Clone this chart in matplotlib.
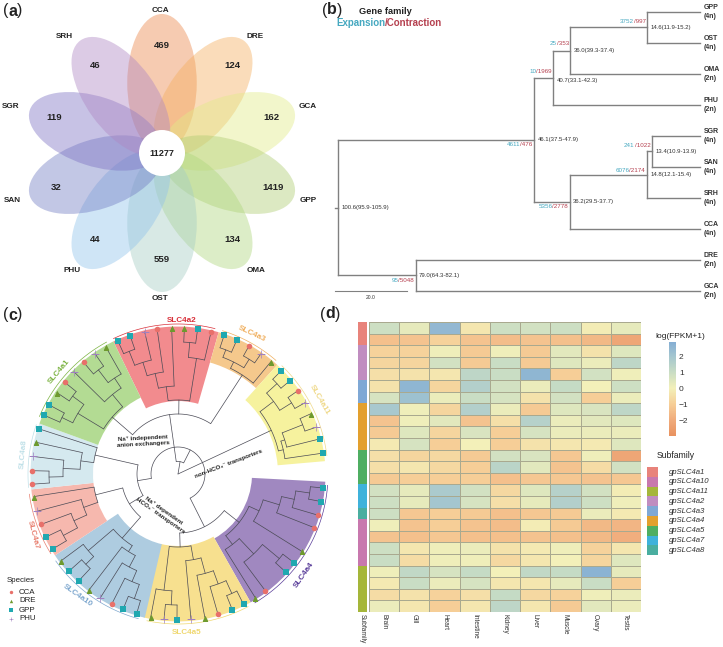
"""Four panel genome figure: flower plot, dated species tree, SLC4 tree, expression heatmap."""

import numpy as np
import matplotlib
matplotlib.use('Agg')
import matplotlib.pyplot as plt
from matplotlib.colors import LinearSegmentedColormap, ListedColormap
from matplotlib.patches import Circle, Ellipse, Rectangle

plt.rcParams['font.family'] = ['Liberation Sans', 'DejaVu Sans']

W, H = 723, 647

# panel a
flower_species = ['CCA', 'DRE', 'GCA', 'GPP', 'OMA', 'OST', 'PHU', 'SAN', 'SGR', 'SRH']
flower_counts = [469, 124, 162, 1419, 134, 559, 44, 32, 119, 46]
core_count = 11277
flower_colors = ['#EB874B', '#F5AF5F', '#E1EB87', '#AFCD73', '#AFD77D',
                 '#A5CDC3', '#91C3EB', '#737DC3', '#7D73C3', '#AF87C3']

# panel b: (age, age range, expansion, contraction, children)
species_tree = (100.6, '100.6(95.9-105.9)', None, None, [
    (46.1, '46.1(37.5-47.9)', 4611, 476, [
        (40.7, '40.7(33.1-42.3)', 10, 1969, [
            (36.0, '36.0(39.3-37.4)', 25, 353, [
                (14.6, '14.6(11.9-15.2)', 3752, 997, ['GPP', 'OST']),
                'OMA']),
            'PHU']),
        (36.2, '36.2(29.5-37.7)', 5356, 2778, [
            (14.8, '14.8(12.1-15.4)', 6076, 2174, [
                (13.4, '13.4(10.9-13.9)', 241, 1022, ['SGR', 'SAN']),
                'SRH']),
            'CCA'])]),
    (79.0, '79.0(64.3-82.1)', 95, 5048, ['DRE', 'GCA'])])
tip_order = ['GPP', 'OST', 'OMA', 'PHU', 'SGR', 'SAN', 'SRH', 'CCA', 'DRE', 'GCA']
ploidy = ['4n', '4n', '2n', '2n', '4n', '4n', '4n', '4n', '2n', '2n']

# panel c: (start angle, end angle, inner radius) of each clade
clade_names = ['SLC4a2', 'SLC4a3', 'SLC4a11', 'SLC4a4', 'SLC4a5', 'SLC4a10', 'SLC4a7', 'SLC4a8', 'SLC4a1']
clade_start = [74, 47.7, 5, -60.5, -103.5, 213.5, 186, 160, 116]
clade_end = [116, 74, 47.7, -3, -60.5, 257, 213.5, 186, 160]
clade_inner = [73, 116, 100, 74, 72, 72, 85, 85, 85]
clade_colors = ['#F28B8E', '#F5C88C', '#F6F29E', '#A088C0', '#F7E08F', '#AECCE0', '#F6B8AE', '#D5E9EF', '#B3DB93']
label_colors = ['#D9303A', '#F0B060', '#EFD98A', '#5A3E9A', '#F0D870', '#7FA8CF', '#E88070', '#BFE0E8', '#7CB342']

clade_angles = {
    'SLC4a2': [114.3, 109.1, 103.2, 98.2, 92.5, 87.5, 82.3, 76.9],
    'SLC4a3': [71.6, 66.3, 61.0, 55.4, 50.4],
    'SLC4a11': [45.0, 39.8, 34.8, 29.3, 24.4, 18.7, 13.9, 8.2],
    'SLC4a4': [-5.5, -10.9, -16.4, -21.5, -32.0, -37.4, -42.3, -53.2, -58.0],
    'SLC4a5': [-63.3, -68.2, -74.1, -79.4, -84.9, -90.4, -95.5, -100.8],
    'SLC4a10': [253.5, 247.9, 243.0, 237.9, 232.5, 227.1, 221.7, 216.6],
    'SLC4a7': [210.9, 205.5, 200.2, 194.8, 188.9],
    'SLC4a8': [184.0, 178.7, 173.1, 167.4, 162.0],
    'SLC4a1': [156.3, 151.8, 146.1, 141.0, 135.5, 130.2, 124.6, 119.6],
}
clade_species = {
    'SLC4a2': ['GPP', 'GPP', 'PHU', 'CCA', 'DRE', 'DRE', 'GPP', 'CCA'],
    'SLC4a3': ['GPP', 'GPP', 'CCA', 'PHU', 'DRE'],
    'SLC4a11': ['GPP', 'GPP', 'CCA', 'PHU', 'DRE', 'PHU', 'GPP', 'GPP'],
    'SLC4a4': ['GPP', 'GPP', 'CCA', 'CCA', 'DRE', 'GPP', 'GPP', 'CCA', 'DRE'],
    'SLC4a5': ['GPP', 'GPP', 'CCA', 'DRE', 'PHU', 'GPP', 'PHU', 'DRE'],
    'SLC4a10': ['GPP', 'GPP', 'CCA', 'PHU', 'DRE', 'GPP', 'GPP', 'DRE'],
    'SLC4a7': ['GPP', 'GPP', 'CCA', 'PHU', 'DRE'],
    'SLC4a8': ['CCA', 'CCA', 'PHU', 'DRE', 'GPP'],
    'SLC4a1': ['GPP', 'GPP', 'DRE', 'CCA', 'PHU', 'CCA', 'PHU', 'DRE'],
}
# (node radius, children), an int is a tip of the clade
clade_trees = {
    'SLC4a2': (74, [(88, [(103, [(117, [(132, [0, 1]), 2]), 3]), 4]), (117, [(132, [5, 6]), 7])]),
    'SLC4a3': (118, [(125, [(133, [0, 1]), (135, [2, 3])]), 4]),
    'SLC4a11': (103, [(120, [(134, [0, 1]), (134, [2, 3])]), (108, [7, (112, [6, (134, [4, 5])])])]),
    'SLC4a4': (78, [(89, [(106, [(119, [(133, [0, 1]), 2]), 3]), 4]), (89, [8, (110, [7, (132, [5, 6])])])]),
    'SLC4a5': (73, [(117, [7, (131, [5, 6])]), (87, [4, (103, [3, (117, [2, (131, [0, 1])])])])]),
    'SLC4a10': (85, [(92, [4, (105, [3, (117, [2, (132, [0, 1])])])]), (118, [7, (129, [5, 6])])]),
    'SLC4a7': (85, [(100, [(114, [(130, [0, 1]), 2]), 3]), 4]),
    'SLC4a8': (85, [(98, [(115, [(129, [0, 1]), 2]), 3]), 4]),
    'SLC4a1': (87, [(117, [(129, [0, 1]), (131, [2, 3])]), (103, [4, (115, [(131, [5, 6]), 7])])]),
}
# branches between clades, strings name a clade
backbone = (0, ['SLC4a11', (12.5, [
    (60, ['SLC4a1', 'SLC4a2', 'SLC4a3']),
    (27, [(41, ['SLC4a8', (57, ['SLC4a7', 'SLC4a10'])]),
          (59, ['SLC4a5', 'SLC4a4'])])])])
species_names = ['CCA', 'DRE', 'GPP', 'PHU']
species_colors = ['#E8706A', '#6E9A2E', '#20A8B0', '#A080C0']
species_markers = ['o', '^', 's', '+']

# panel d
tissues = ['Brain', 'Gill', 'Heart', 'Intestine', 'Kidney', 'Liver', 'Muscle', 'Ovary', 'Testis']
expression = [
    [0.9, 0.3, 2.5, -0.3, 0.9, 0.8, 0.9, -0.1, 0.3],
    [-1.4, -1.3, -0.9, -1.3, -1.5, -1.3, -1.4, -1.6, -2.2],
    [-0.9, -0.9, 0.1, -1.1, 0.1, -1.1, 0.4, -0.4, 0.5],
    [-0.8, -0.8, 0.8, -1.1, 1.0, -1.1, 0.5, 0.2, 1.3],
    [-0.5, -0.4, -0.3, 1.3, 1.0, 2.6, -1.0, 0.8, 0.1],
    [-0.4, 2.6, -0.8, 1.6, 0.8, 0.2, 1.1, 0.0, 0.9],
    [0.7, 2.2, 0.2, 1.0, 0.7, -0.4, 0.8, -1.0, 0.2],
    [1.9, 0.1, -0.8, 1.6, 0.2, -1.1, 0.5, 0.6, 1.3],
    [-1.3, 0.1, 0.4, -1.3, -0.5, 1.5, 0.2, 0.4, 0.5],
    [-1.1, 0.5, -0.8, 0.6, -1.0, 0.7, 0.2, 0.2, 0.2],
    [-0.2, 0.7, -1.0, 0.0, -1.0, -0.4, -0.3, -0.2, 0.5],
    [-0.5, -0.8, -0.7, -1.1, 0.8, 0.6, -1.2, 0.1, -2.2],
    [-0.5, -0.3, -0.7, -1.0, 1.4, 0.4, -1.3, -0.6, 0.8],
    [-1.1, -1.0, -1.0, -1.0, -1.4, -1.2, -1.2, -1.3, -1.2],
    [0.8, 0.3, 1.8, 0.8, -0.7, 0.5, 1.5, 0.8, -0.1],
    [0.9, 0.3, 2.0, 0.7, -0.5, 0.3, 1.6, 0.9, 0.1],
    [0.9, -1.2, -1.0, -1.1, -1.4, -1.2, -1.1, 0.2, -0.2],
    [0.1, -1.3, -1.0, -1.3, -1.5, -0.1, -1.1, -1.6, -1.7],
    [-1.3, -1.4, -1.2, -1.4, -1.4, -1.3, -1.4, -1.6, -1.9],
    [0.9, -0.3, 0.1, 0.2, -0.4, -0.2, 0.1, -0.9, -0.3],
    [1.0, -0.6, 0.1, 0.1, -0.7, -0.3, 0.0, -0.8, 0.5],
    [0.1, 1.2, 0.7, 1.1, 0.0, 1.2, 1.1, 2.7, 0.3],
    [-0.2, 1.0, 0.2, 0.7, -0.3, -0.3, 0.3, 1.0, -1.0],
    [-0.6, -0.4, -0.9, -0.5, 1.1, -0.7, -0.9, 0.1, 0.2],
    [0.2, -0.3, -1.0, -0.3, 1.3, -0.3, -1.1, 0.4, 0.2],
]
subfamilies = ['gpSLC4a1', 'gpSLC4a10', 'gpSLC4a11', 'gpSLC4a2', 'gpSLC4a3',
               'gpSLC4a4', 'gpSLC4a5', 'gpSLC4a7', 'gpSLC4a8']
subfamily_colors = ['#E8837B', '#C878AE', '#A5B63A', '#C08DC0', '#7FA8D5',
                    '#E3A02E', '#4FAE62', '#3FB2DB', '#4AAEA0']
row_subfamily = [0, 0, 3, 3, 3, 4, 4, 5, 5, 5, 5, 6, 6, 6, 7, 7, 8, 1, 1, 1, 1, 2, 2, 2, 2]
colorbar_ticks = [-2, -1, 0, 1, 2]

heat_cmap = LinearSegmentedColormap.from_list('heat', [
    (0.0, '#E8925F'), (1 / 5.9, '#F0AB7C'), (2 / 5.9, '#F6CE97'), (3 / 5.9, '#F3F0B9'),
    (4 / 5.9, '#C9DDC4'), (5 / 5.9, '#A4C6CF'), (1.0, '#85AED4')])


def px_axes(left, top, right, bottom, **kwargs):
    return fig.add_axes([left / W, 1 - bottom / H, (right - left) / W, (bottom - top) / H], **kwargs)


def chain_text(ax, x, y, parts, **kwargs):
    """Write (text, options) pieces one after the other on the pixel axes."""
    renderer = fig.canvas.get_renderer()
    for text, opts in parts:
        t = ax.text(x, y, text, ha='left', va='center', **{**kwargs, **opts})
        x += t.get_window_extent(renderer).width


def draw_flower(ax):
    center_x, center_y = 162, 153
    for i, color in enumerate(flower_colors):
        angle = 90 - 36 * i
        px = center_x + 70 * np.cos(np.radians(angle))
        py = center_y - 70 * np.sin(np.radians(angle))
        ax.add_patch(Ellipse((px, py), 138, 69.5, angle=-angle, facecolor=color, alpha=0.43, edgecolor='none'))
    ax.add_patch(Circle((center_x, center_y), 23, facecolor='white', edgecolor='none'))
    ax.text(center_x, center_y, str(core_count), ha='center', va='center', fontsize=6.6, fontweight='bold', color='#222222')
    name_xy = [(160, 10), (255, 36), (308, 106), (308, 201), (256, 271),
               (160, 298), (72, 271), (12, 201), (11, 106), (64, 36)]
    count_xy = [(162, 46), (232, 66), (271, 118), (273, 188), (232, 240),
                (162, 260), (95, 240), (56, 188), (54, 118), (95, 66)]
    for name, count, nxy, cxy in zip(flower_species, flower_counts, name_xy, count_xy):
        ax.text(nxy[0], nxy[1], name, ha='center', va='center', fontsize=5.9, fontweight='bold', color='#222222')
        ax.text(cxy[0], cxy[1], str(count), ha='center', va='center', fontsize=6.8, fontweight='bold', color='#222222')


def draw_species_tree(ax):
    exp_dy = {14.6: 6, 36.0: 7, 40.7: 6, 46.1: -5, 13.4: 6, 14.8: 4, 36.2: -5, 79.0: -5}
    label_dy = {40.7: -3}
    line = {'color': '#808080', 'lw': 1.0, 'solid_capstyle': 'projecting'}
    renderer = fig.canvas.get_renderer()

    def walk(node):
        if isinstance(node, str):
            return 0.0, tip_order.index(node)
        age, age_range, gain, loss, children = node
        spots = [walk(c) for c in children]
        rows = [s[1] for s in spots]
        ax.plot([age, age], [min(rows), max(rows)], **line)
        for child_age, child_row in spots:
            ax.plot([age, child_age], [child_row, child_row], **line)
        row = (min(rows) + max(rows)) / 2
        ax.annotate(age_range, (age, row), xytext=(3.5, label_dy.get(age, 0)), textcoords='offset pixels',
                    ha='left', va='center', fontsize=4.3, color='#333333')
        if gain is not None:
            lost = ax.annotate(f'/{loss}', (age, row), xytext=(-1.5, exp_dy[age]), textcoords='offset pixels',
                               ha='right', va='center', fontsize=4.5, color='#B5404F')
            ax.annotate(str(gain), (age, row), xytext=(-1.5 - lost.get_window_extent(renderer).width, exp_dy[age]),
                        textcoords='offset pixels', ha='right', va='center', fontsize=4.5, color='#45A8C0')
        return age, row

    root_age, root_row = walk(species_tree)
    ax.plot([root_age, root_age + 0.8], [root_row, root_row], **line)
    for row, (name, level) in enumerate(zip(tip_order, ploidy)):
        ax.annotate(f'{name}\n({level})', (0, row), xytext=(4, 0), textcoords='offset pixels', ha='left', va='center',
                    fontsize=5, fontweight='bold', color='#333333', linespacing=1.25)
    ax.plot([100.6 + 0.8, 81.4], [9, 9], color='#808080', lw=0.8)
    ax.text(91.4, 9.22, '20.0', ha='center', va='center', fontsize=3.6, color='#333333')


def draw_gene_tree(ax):
    tip_radius = 146
    branch = {'color': '#4A4A55', 'lw': 0.5, 'solid_capstyle': 'round'}
    for name, start, end, inner, color, label_color in zip(clade_names, clade_start, clade_end, clade_inner,
                                                           clade_colors, label_colors):
        ax.bar(np.radians((start + end) / 2), 147.5 - inner, width=np.radians(end - start), bottom=inner,
               color=color, edgecolor='none', zorder=1)
        angles = np.radians(clade_angles[name])
        arc = np.linspace(angles.min() - 0.02, angles.max() + 0.02, 60)
        ax.plot(arc, np.full(60, 150), color=label_color, lw=0.5, zorder=2)

    def walk(node, clade=None):
        if isinstance(node, str):
            return walk(clade_trees[node], node)
        if isinstance(node, int):
            return clade_angles[clade][node], tip_radius
        radius, children = node
        spots = [walk(c, clade) for c in children]
        angles = [s[0] for s in spots]
        for angle, child_radius in spots:
            ax.plot([np.radians(angle)] * 2, [radius, child_radius], zorder=3, **branch)
        if radius > 0:
            arc = np.radians(np.linspace(min(angles), max(angles), 50))
            ax.plot(arc, np.full(50, radius), zorder=3, **branch)
        return (min(angles) + max(angles)) / 2, radius

    walk(backbone)
    for name in clade_names:
        for sp, color, marker in zip(species_names, species_colors, species_markers):
            theta = [np.radians(a) for a, s in zip(clade_angles[name], clade_species[name]) if s == sp]
            opts = {'s': 26, 'linewidths': 0.5} if marker == '+' else {'s': 16, 'linewidths': 0}
            ax.scatter(theta, [tip_radius] * len(theta), c=color, marker=marker, zorder=4, **opts)
    ax.set_ylim(0, 160)
    ax.set_axis_off()


def draw_gene_tree_text(ax):
    label_xy = [(182, 320), (252, 334), (320, 400), (304, 575), (187, 633), (78, 596), (33, 535), (24, 454), (59, 372)]
    label_rot = [0, -25, -60, 55, 0, -35, -75, 85, 50]
    for name, xy, rot, color in zip(clade_names, label_xy, label_rot, label_colors):
        ax.text(xy[0], xy[1], name, ha='center', va='center', rotation=rot, rotation_mode='anchor',
                fontsize=5.9, fontweight='bold', color=color)
    group = {'ha': 'center', 'va': 'center', 'fontsize': 4.5, 'fontweight': 'bold', 'color': '#222222',
             'rotation_mode': 'anchor', 'linespacing': 1.2}
    ax.text(143, 441, 'Na\u207a independent\nanion exchangers', rotation=3, **group)
    ax.text(229, 464, 'non-HCO\u2083\u207b transporters', rotation=21, **group)
    ax.text(162, 513, 'Na\u207a dependent\nHCO\u2083\u207b transporters', rotation=-35, **group)
    ax.text(7, 581, 'Species', ha='left', va='center', fontsize=5.7, color='#222222')
    for i, (sp, color, marker) in enumerate(zip(species_names, species_colors, species_markers)):
        ax.scatter([11], [592 + 9 * i], c=color, marker=marker, s=6 if marker != '+' else 12, linewidths=0.4 if marker == '+' else 0)
        ax.text(19, 592 + 9 * i, sp, ha='left', va='center', fontsize=5.7, color='#222222')


def draw_heatmap():
    values = np.array(expression)
    ax = px_axes(369, 322, 641, 612)
    mesh = ax.pcolormesh(values, cmap=heat_cmap, vmin=-3, vmax=2.9, edgecolors='#A9A98F', linewidth=0.5)
    ax.invert_yaxis()
    ax.set_xticks(np.arange(len(tissues)) + 0.5, tissues, rotation=270, fontsize=4.7, color='#333333')
    ax.set_yticks([])
    ax.tick_params(length=0, pad=1.5)
    for spine in ax.spines.values():
        spine.set_visible(False)

    side = px_axes(358, 322, 367, 612)
    side.pcolormesh(np.array(row_subfamily)[:, None], cmap=ListedColormap(subfamily_colors), vmin=0, vmax=len(subfamilies))
    side.invert_yaxis()
    side.set_xticks([0.5], ['Subfamily'], rotation=270, fontsize=4.8, color='#333333')
    side.set_yticks([])
    side.tick_params(length=0, pad=1.5)
    for spine in side.spines.values():
        spine.set_visible(False)

    cax = px_axes(669, 342, 675.5, 436)
    cbar = fig.colorbar(mesh, cax=cax)
    cbar.outline.set_visible(False)
    cbar.set_ticks(colorbar_ticks)
    cbar.ax.tick_params(length=0, labelsize=6, pad=2.5, labelcolor='#333333')


def draw_heat_legend(ax):
    ax.text(680, 336, 'log(FPKM+1)', ha='center', va='center', fontsize=6, color='#222222')
    ax.text(676, 456, 'Subfamily', ha='center', va='center', fontsize=6.2, color='#222222')
    for i, (name, color) in enumerate(zip(subfamilies, subfamily_colors)):
        ax.add_patch(Rectangle((647, 467 + 9.8 * i), 10.5, 9.8, facecolor=color, edgecolor='none'))
        ax.text(669, 472 + 9.8 * i, name, ha='left', va='center', fontsize=5.6, style='italic', color='#333333')


fig = plt.figure(figsize=(W / 100, H / 100), dpi=100)

ax_c = px_axes(18, 314, 338, 634, projection='polar')
draw_gene_tree(ax_c)

# age axis is 3.6 px per Myr with tips at x=700, rows are 31 px apart with the first at y=12
ax_b = px_axes(330, 0, 720, 300)
ax_b.set_xlim((700 - 330) / 3.6, (700 - 720) / 3.6)
ax_b.set_ylim((300 - 12) / 31, -12 / 31)
ax_b.set_axis_off()
draw_species_tree(ax_b)

draw_heatmap()

ax_px = fig.add_axes([0, 0, 1, 1], zorder=5)
ax_px.set_xlim(0, W)
ax_px.set_ylim(H, 0)
ax_px.set_axis_off()
draw_flower(ax_px)
draw_gene_tree_text(ax_px)
draw_heat_legend(ax_px)

ax_px.set_xlim(0, W)
ax_px.set_ylim(H, 0)

for letter, x, y in [('a', 3, 11), ('b', 322, 10), ('c', 3, 315), ('d', 320, 314)]:
    chain_text(ax_px, x, y, [('(', {'fontweight': 'normal'}), (letter, {'fontweight': 'bold'}), (')', {'fontweight': 'normal'})],
               fontsize=11.5, color='#222222')

ax_px.text(359, 11, 'Gene family', ha='left', va='center', fontsize=6.7, fontweight='bold', color='#222222')
chain_text(ax_px, 336, 23, [('Expansion', {'color': '#45A8C0'}), ('/Contraction', {'color': '#B5404F'})],
           fontsize=7, fontweight='bold')

fig.savefig('out.png', dpi=100)
plt.close(fig)
